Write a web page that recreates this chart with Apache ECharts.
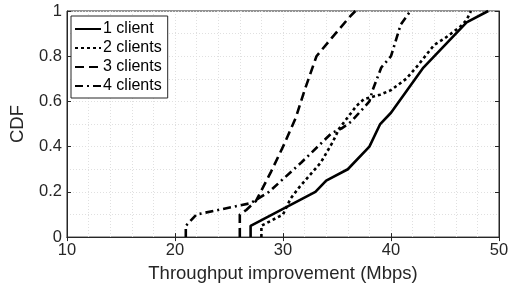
<!DOCTYPE html>
<html>
<head>
<meta charset="utf-8">
<script src="https://cdn.jsdelivr.net/npm/echarts@6/dist/echarts.min.js"></script>
<style>
  html, body { margin: 0; padding: 0; background: #fff; }
  #chart { width: 512px; height: 288px; }
</style>
</head>
<body>
<div id="chart"></div>
<script>
// CDF of throughput improvement, per number of clients
const seriesNames = ['1 client', '2 clients', '3 clients', '4 clients'];

const client1X = [27, 27, 33, 34, 36, 38, 39, 40, 43, 47, 49];
const client1Y = [0, 0.05, 0.2, 0.25, 0.3, 0.4, 0.5, 0.55, 0.75, 0.95, 1];

const client2X = [28, 28, 30, 30.7, 31.5, 33.5, 34.6, 35.2, 36.8, 37.5, 39, 40, 41.4, 42.5, 44, 45, 46.4, 47, 47.4];
const client2Y = [0, 0.05, 0.1, 0.17, 0.22, 0.33, 0.42, 0.48, 0.58, 0.61, 0.63, 0.65, 0.7, 0.76, 0.85, 0.88, 0.93, 0.96, 1];

const client3X = [26, 26, 26.6, 27.5, 28.9, 30.1, 31.2, 32, 33.1, 34.5, 36.1, 36.7];
const client3Y = [0, 0.1, 0.12, 0.16, 0.29, 0.41, 0.53, 0.65, 0.8, 0.88, 0.97, 1];

const client4X = [21, 21, 22, 27, 28.7, 31.7, 34.5, 35.4, 36.3, 38, 38.3, 39.1, 40, 40.9, 41.8];
const client4Y = [0, 0.05, 0.1, 0.15, 0.2, 0.33, 0.46, 0.48, 0.51, 0.6, 0.65, 0.75, 0.8, 0.94, 1];

const xTicks = [10, 20, 30, 40, 50];
const yTicks = [0, 0.2, 0.4, 0.6, 0.8, 1];

const zip = (xs, ys) => xs.map((x, i) => [x, ys[i]]);
const lineTypes = ['solid', [3, 3], [9, 5], [8, 4, 2, 4]];
const allData = [zip(client1X, client1Y), zip(client2X, client2Y), zip(client3X, client3Y), zip(client4X, client4Y)];

const FONT = '"Liberation Sans", Arial, sans-serif';
const INK = '#262626';

const chart = echarts.init(document.getElementById('chart'), null, { renderer: 'canvas' });

const gridLine = { show: true, lineStyle: { color: '#e0e0e0', type: [1, 2], width: 1 } };

chart.setOption({
  animation: false,
  grid: { left: 64, right: 13, top: 11, bottom: 50, show: true, borderColor: INK, borderWidth: 1, backgroundColor: '#fff' },
  legend: {
    data: seriesNames,
    orient: 'vertical',
    left: 71, top: 16,
    itemWidth: 26, itemHeight: 12, itemGap: 1,
    padding: [4, 6, 3, 3],
    backgroundColor: '#fff',
    borderColor: INK, borderWidth: 1,
    itemStyle: { opacity: 0 },
    textStyle: { fontFamily: FONT, fontSize: 16, lineHeight: 18, color: '#000', padding: [0, 0, 0, -3] }
  },
  xAxis: [{
    type: 'value', min: 10, max: 50, interval: 10,
    name: 'Throughput improvement (Mbps)', nameLocation: 'middle', nameGap: 25,
    nameTextStyle: { fontFamily: FONT, fontSize: 18.5, color: INK },
    axisLine: { show: true, lineStyle: { color: INK } },
    axisTick: { show: true, inside: true, length: 4, lineStyle: { color: INK } },
    axisLabel: { fontFamily: FONT, fontSize: 16.5, color: INK, margin: 5, formatter: v => xTicks.includes(v) ? String(v) : '' },
    splitLine: gridLine,
    minorTick: { show: false, splitNumber: 5 },
    minorSplitLine: gridLine
  }, {
    type: 'value', position: 'top', min: 10, max: 50, interval: 10,
    axisLine: { show: true, lineStyle: { color: INK } },
    axisTick: { show: true, inside: true, length: 4, lineStyle: { color: INK } },
    axisLabel: { show: false }, splitLine: { show: false }
  }],
  yAxis: [{
    type: 'value', min: 0, max: 1, interval: 0.2,
    name: 'CDF', nameLocation: 'middle', nameGap: 40,
    nameTextStyle: { fontFamily: FONT, fontSize: 18.5, color: INK },
    axisLine: { show: true, lineStyle: { color: INK } },
    axisTick: { show: true, inside: true, length: 4, lineStyle: { color: INK } },
    axisLabel: { fontFamily: FONT, fontSize: 16.5, color: INK, margin: 5, formatter: v => yTicks.includes(v) ? String(v) : '' },
    splitLine: gridLine,
    minorTick: { show: false, splitNumber: 2 },
    minorSplitLine: gridLine
  }, {
    type: 'value', position: 'right', min: 0, max: 1, interval: 0.2,
    axisLine: { show: true, lineStyle: { color: INK } },
    axisTick: { show: true, inside: true, length: 4, lineStyle: { color: INK } },
    axisLabel: { show: false }, splitLine: { show: false }
  }],
  series: seriesNames.map((name, i) => ({
    name, type: 'line', data: allData[i],
    xAxisIndex: 0, yAxisIndex: 0,
    symbol: 'none', color: '#000',
    lineStyle: { color: '#000', width: 2.6, type: lineTypes[i] }
  }))
});
</script>
</body>
</html>
